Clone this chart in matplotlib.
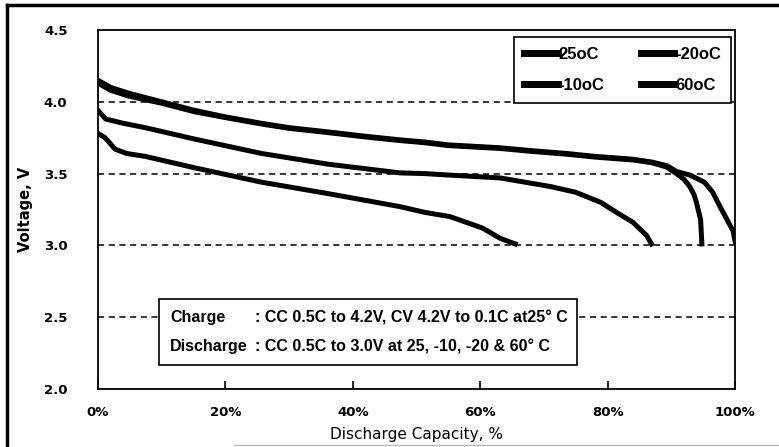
import numpy as np
import matplotlib
matplotlib.use('Agg')
import matplotlib.pyplot as plt
from matplotlib.lines import Line2D
from matplotlib.patches import Rectangle

# (1) Dados
cap_25 = [0, 2, 4.8, 10, 15.2, 20, 25.7, 30, 36.2, 42, 47.4, 51.3, 55, 63.1, 68,
          73.6, 78, 84, 87, 89.3, 90.8, 92.9, 95.2, 96.5, 97.3, 98.5, 99.7, 100]
volt_25 = [4.15, 4.10, 4.06, 4.00, 3.94, 3.895, 3.85, 3.82, 3.79, 3.76, 3.735, 3.72, 3.70, 3.68, 3.66,
           3.64, 3.62, 3.60, 3.58, 3.555, 3.515, 3.49, 3.44, 3.37, 3.30, 3.20, 3.10, 3.03]

cap_60 = [0, 2, 4.8, 10, 15.2, 20, 25.7, 30, 36.2, 42, 47.4, 51.3, 55, 63.1, 68,
          73.6, 78, 84, 87, 89.3, 90.8, 92.0, 92.9, 93.6, 94.0, 94.6, 94.8]
volt_60 = [4.13, 4.08, 4.04, 3.99, 3.93, 3.89, 3.845, 3.815, 3.785, 3.755, 3.73, 3.715, 3.695, 3.675, 3.655,
           3.635, 3.615, 3.595, 3.575, 3.545, 3.50, 3.46, 3.41, 3.35, 3.29, 3.18, 3.01]

cap_m10 = [0, 1.2, 4, 7.4, 15.2, 25.7, 36.2, 47.4, 51.3, 55, 63.1, 71, 75,
           78.9, 81.4, 84, 86.1, 86.9]
volt_m10 = [3.94, 3.88, 3.85, 3.82, 3.74, 3.64, 3.565, 3.505, 3.50, 3.49, 3.47, 3.41, 3.37,
            3.30, 3.23, 3.16, 3.07, 3.01]

cap_m20 = [0, 1.1, 2.7, 4.5, 7.4, 15.2, 25.7, 36.2, 47.4, 51.3, 55.3, 60.4, 63.1, 65.5]
volt_m20 = [3.78, 3.75, 3.67, 3.64, 3.62, 3.54, 3.44, 3.36, 3.27, 3.23, 3.20, 3.12, 3.05, 3.01]

y_ticks = [2.0, 2.5, 3.0, 3.5, 4.0, 4.5]
x_ticks = [0, 20, 40, 60, 80, 100]
x_tick_labels = ['0%', '20%', '40%', '60%', '80%', '100%']

# (2) Figura
fig = plt.figure(figsize=(7.79, 4.47), dpi=100)
ax = fig.add_axes([98 / 779, 58 / 447, 637 / 779, 359 / 447])

# linhas de grade tracejadas
for v in [2.5, 3.0, 3.5, 4.0]:
    ax.axhline(v, color='black', linestyle=(0, (4, 3)), linewidth=1.1, zorder=1)

ax.plot(cap_25, volt_25, color='black', linewidth=3.6, label='25oC', zorder=3)
ax.plot(cap_m20, volt_m20, color='black', linewidth=3.6, label='-20oC', zorder=3)
ax.plot(cap_m10, volt_m10, color='black', linewidth=3.6, label='-10oC', zorder=3)
ax.plot(cap_60, volt_60, color='black', linewidth=3.6, label='60oC', zorder=3)

ax.set_xlim(0, 100)
ax.set_ylim(2.0, 4.5)
ax.set_yticks(y_ticks)
ax.set_yticklabels(['%.1f' % v for v in y_ticks], fontsize=9.5, fontweight='bold')
ax.set_xticks(x_ticks)
ax.set_xticklabels(x_tick_labels, fontsize=9.5, fontweight='bold')
ax.tick_params(axis='x', direction='in', length=6, width=1.2, pad=12)
ax.tick_params(axis='y', length=0, pad=22)
for s in ax.spines.values():
    s.set_linewidth(1.3)

ax.set_xlabel('Discharge Capacity, %', fontsize=11, labelpad=6)
ax.set_ylabel('Voltage, V', fontsize=10.5, fontweight='bold', labelpad=8)

# legenda em duas colunas
h = ax.get_legend_handles_labels()
order = [0, 2, 1, 3]
leg = ax.legend([h[0][i] for i in order], [h[1][i] for i in order],
                ncol=2, loc='upper right', bbox_to_anchor=(0.994, 0.981),
                borderaxespad=0, fancybox=False, edgecolor='black', framealpha=1,
                prop={'family': 'Liberation Sans', 'weight': 'bold', 'size': 12},
                handlelength=2.0, handletextpad=0.05, columnspacing=2.2,
                labelspacing=0.95, borderpad=0.6)
leg.get_frame().set_linewidth(1.2)
for line in leg.get_lines():
    line.set_linewidth(5)

# caixa de texto com as condições
ax.add_patch(Rectangle((0.0958, 0.0669), 0.656, 0.184, transform=ax.transAxes,
                       facecolor='white', edgecolor='black', linewidth=1.2, zorder=4))
txt = {'family': 'Liberation Sans', 'weight': 'bold', 'size': 11.5}
ax.text(0.113, 0.198, 'Charge', transform=ax.transAxes, va='center', zorder=5, **txt)
ax.text(0.113, 0.117, 'Discharge', transform=ax.transAxes, va='center', zorder=5, **txt)
ax.text(0.246, 0.198, ': CC 0.5C to 4.2V, CV 4.2V to 0.1C at25\u00b0 C',
        transform=ax.transAxes, va='center', zorder=5, **txt)
ax.text(0.246, 0.117, ': CC 0.5C to 3.0V at 25, -10, -20 & 60\u00b0 C',
        transform=ax.transAxes, va='center', zorder=5, **txt)

# moldura externa
fig.add_artist(Line2D([7 / 779, 7 / 779], [0, 1 - 5 / 447], color='black', linewidth=2.5))
fig.add_artist(Line2D([7 / 779, 1], [1 - 5 / 447, 1 - 5 / 447], color='black', linewidth=2.5))
fig.add_artist(Line2D([0.3, 1], [2 / 447, 2 / 447], color='#bbbbbb', linewidth=1))

fig.savefig('out.png', dpi=100)
